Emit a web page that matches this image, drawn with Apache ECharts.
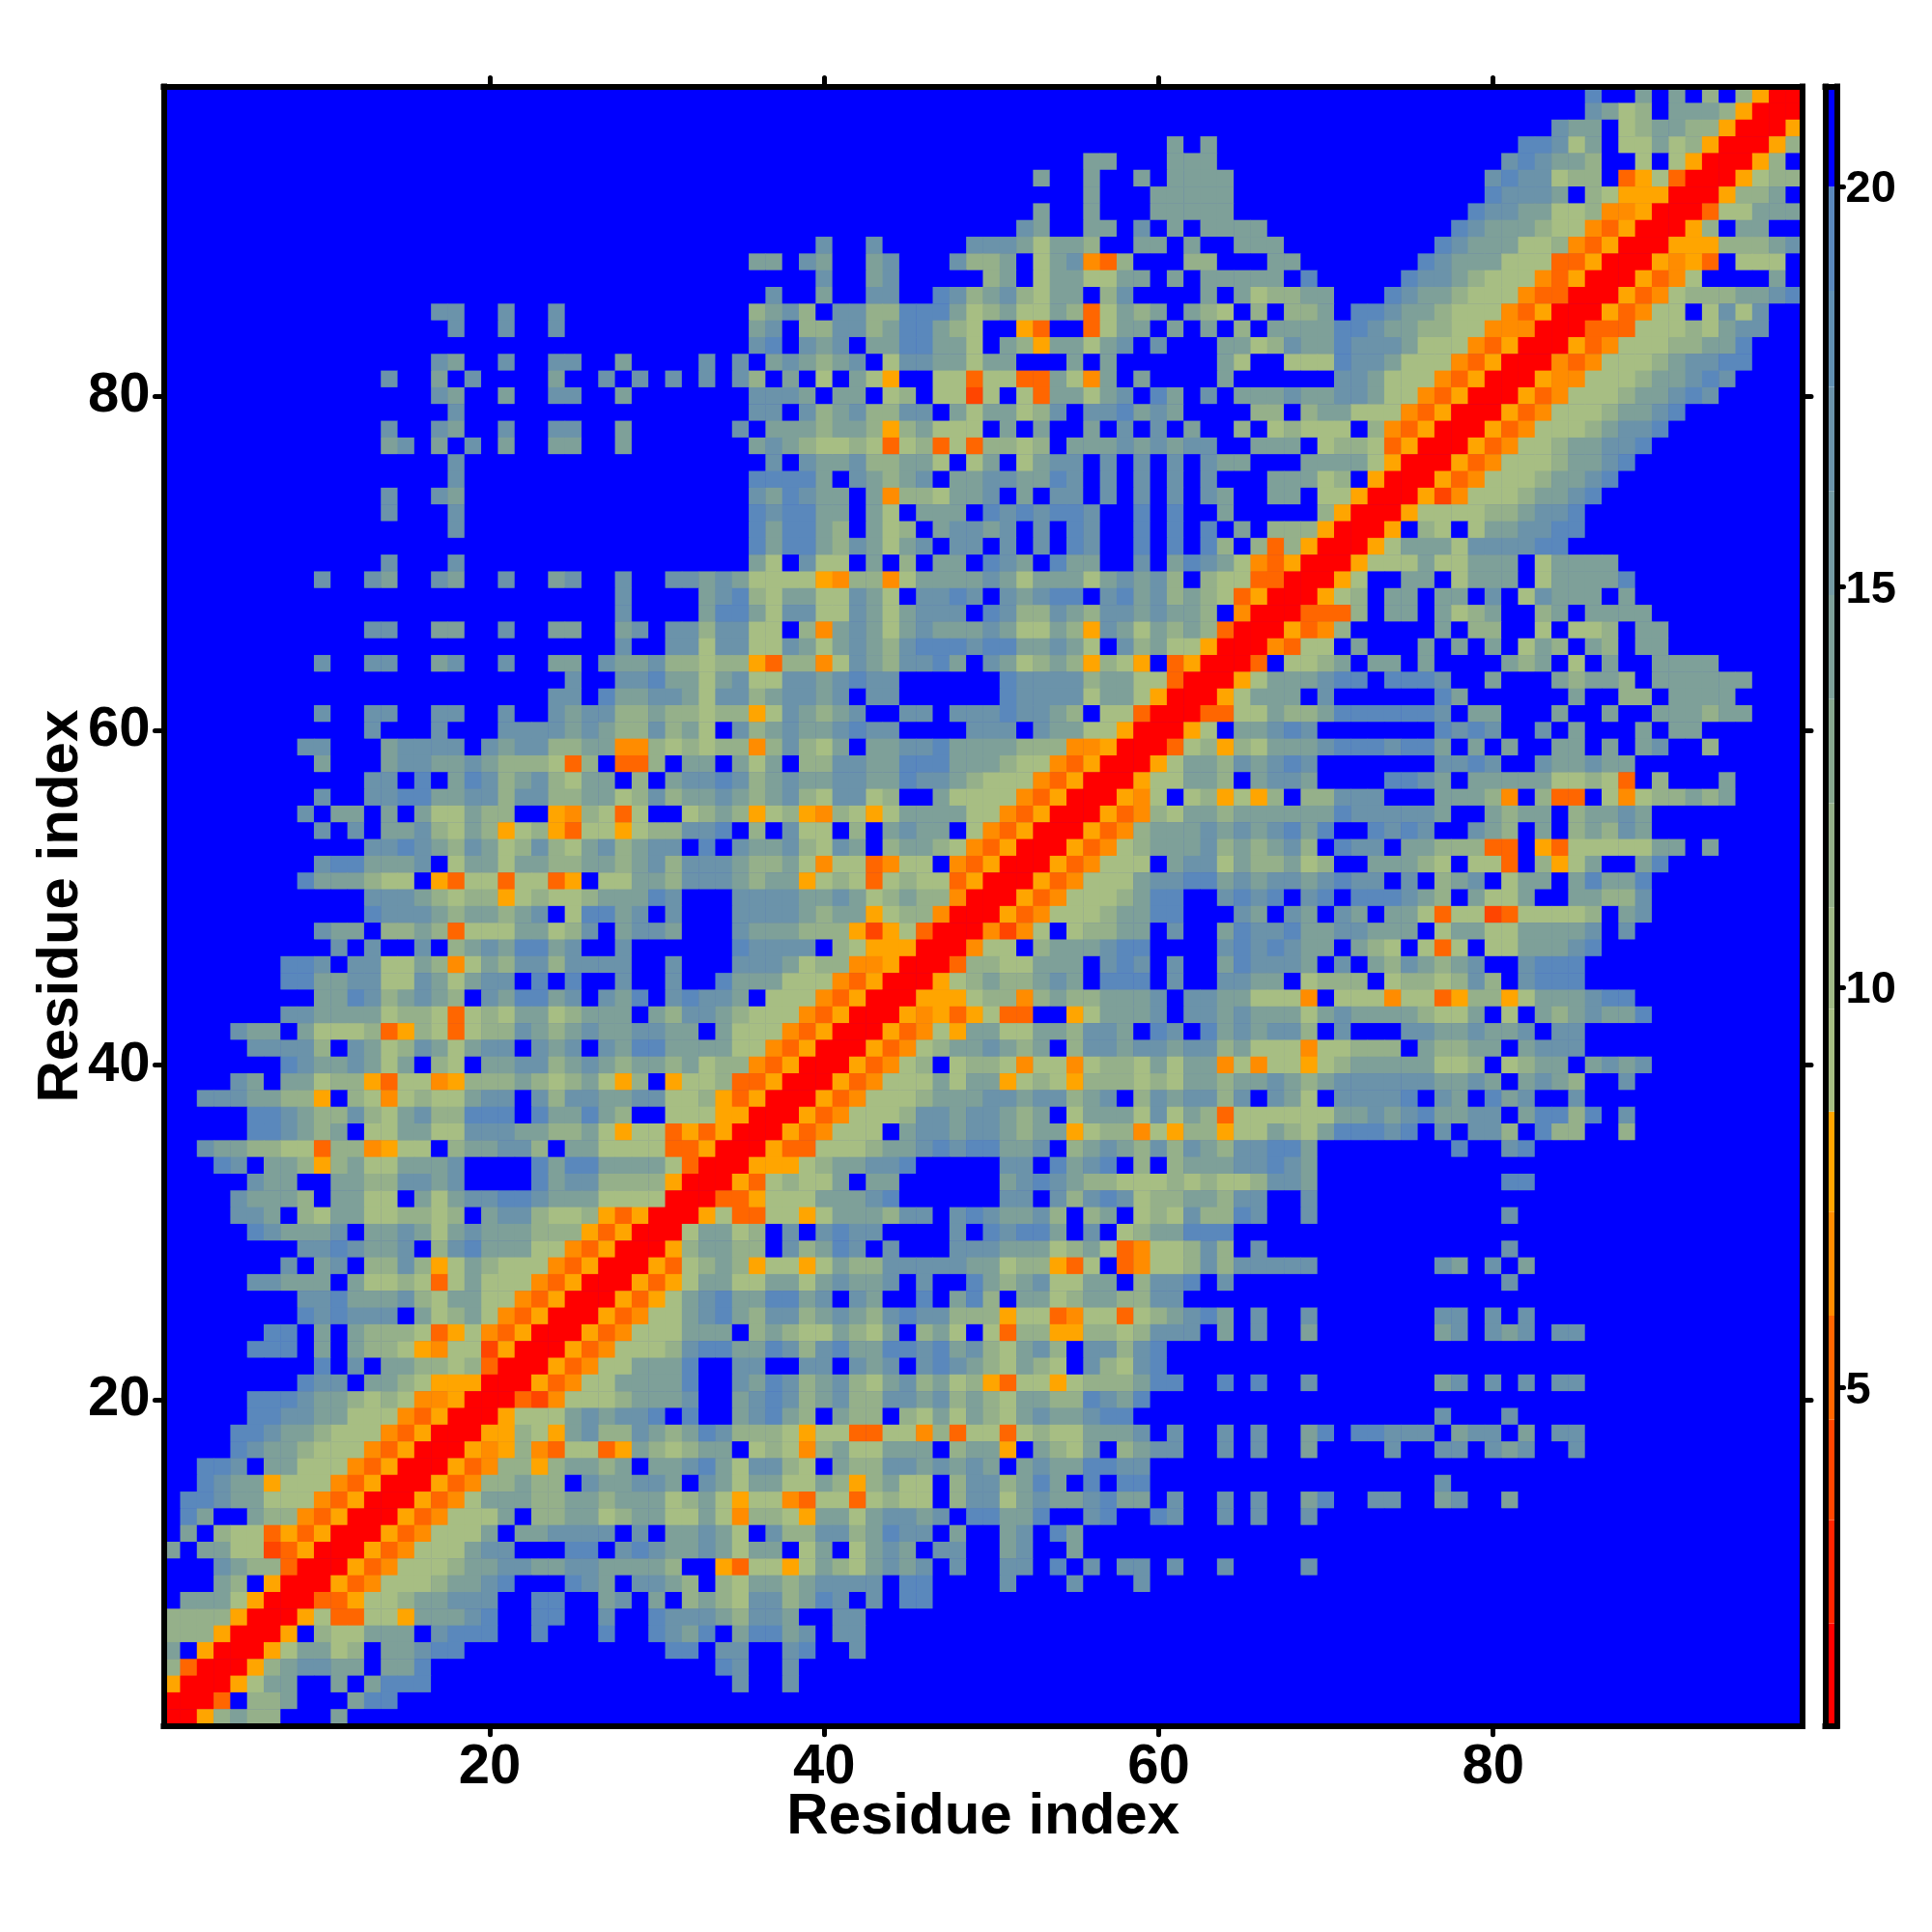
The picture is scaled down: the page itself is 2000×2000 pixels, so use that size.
<!DOCTYPE html>
<html><head><meta charset="utf-8">
<style>html,body{margin:0;padding:0;background:#fff}#c{width:2000px;height:2000px}</style>
<script src="https://cdn.jsdelivr.net/npm/echarts@6/dist/echarts.min.js"></script>
</head><body><div id="c"></div>
<script>
// Rows run from residue 98 (top) to residue 1 (bottom). '.' = beyond 20, digits = 8.5-20 classes, w v u t r = warm classes.
const block1_33 = [
"","","","","","","","","","","","","",
"..... ..... ..... .44.. 4..4.",
"..... ..... ..... ..4.. 4..4.",
"",
"..... ..... ..... .43.. 4..44 ..3.. ..4",
"..... ..... ...4. .3.4. ...3. .4.4. 4.4",
"..... ..... ..... .43.. 3..44 ..3..",
"..... ..... ..... ..4..",
"..... ..... ...4. .43.. 4..44 ..3..",
"..... ..... ...34 .3.4. 3..33 ..3..",
"..... ..... ..... ..4..",
"..... ..... ..... ..4..",
"..... ..... ...4. .43..",
"..... ..... ...4. ..4..",
"..... ..... ..... ..4..",
"",
"..... ..... ...4. ..4..",
"..... ....4 ..43. .43.. 4..34 ..4.. 443",
"..... ..... ..... ..... ..... ..4.. ..3",
"..... ..... ..... ..... ..... ..4.. ..3",
"..... ..... ..44. .33.. 4..33 ..34. 442",
"..... ..... ..... ..... ..... ..4.. 441",
"..... ....4 ..44. .34.. 4..33 .4334 221",
"..... ..... ..... ..... ....4 ..445 331",
"..... ..... ..... ..... ...44 .5334 431",
"..... ....4 ..44. .44.. 4..43 44223 221",
"..... ..... ..4.. .4... 44443 43224 231",
"..... ...44 ...34 444.4 34422 33vv2 121",
"..... ....3 ...34 43343 2221u 2.uu2 .33",
"..... ..... ..44. 5.354 23421 33.2. 344",
"..... ....4 ..445 53344 24422 33124 233",
"..... ...4. 33.3. 31132 2..wv 21u1. .12",
"..... ....4 .4.33 42132 w12wu 11w12 244",
"..... ..... ..445 43243 12421 34234 4.5",
"..... ....4 55333 4.133 13322 33234 244",
"..... ...53 33211 .wu11 u11uw .1133 244",
"..... ..... ..444 32122 w1211 23335 4",
"..... ..... ..544 43233 234.1 5534. 4",
"..... ....4 33.22 32u11 13312 4.344 3",
"..... ..... 4.4.. 4.234 35534 ..4",
"..... ..554 .4411 32v13 24424 444.. 4",
"..... ..553 34411 43134 4.5.5 ..4.. 4",
"..... ....3 35423 432.4 35534 .435. 454",
"..... ..443 33312 21u12 13312 333.3 244",
"....4 33.31 112uw 21u12 24323 43344 33.",
"..... 44442 .4312 43134 4.434 .4355 333",
"..... ..543 34313 .21.3 34423 43233 231",
"....4 3.331 22wu1 1vw22 23212 31w2. w11",
"..444 3322w .21v1 21134 4.424 43344 112",
"..... 55432 24213 42255 5.533 532.. 111",
"..... 55432 3.113 31144 43322 31w11 uwu",
"..433 2211u 22vw1 1.233 442.3 31111 uuw",
"...54 .332w 23113 334.. ..535 53333 1ur",
"..... 433.. 33224 434.. ..534 42222 wrr",
"....4 3332. 3311. 31344 55433 31111 rrr",
"....4 43.21 33112 212.3 44211 2wuwr rrw",
"..... 54333 4.334 31343 33222 wuwrr r13",
"..... ...44 54334 .2453 3311v uwrrr w23",
"..... ..4.3 4.224 2w132 111vu wrrrw u12",
"..... 44333 .3112 1u131 11vuw rrrwu w13",
"..... ...44 53334 21331 1vuwr rrwuw 134",
"..... ...54 5444. 31231 vuwrr rwuv1 134",
"..... .55.3 .3222 1uw1v uwrrr wuv11 133",
"..... 555.3 .3221 wv11t wrrrw uv111 245",
"..... ....5 .4.33 2212u rrrwu v1133 35.",
"..... ...54 4.332 1wwwr rrwuv 11333 35.",
"..... 55543 32121 vvwrr rutv1 11233 34.",
"..... 55443 3111v uwrrr w1113 43445 .5.",
"....5 54332 111vu wrrrw w21w3 42243 235",
"....5 43321 11vuw rrrwv w2vu1 1uw32 123",
"..554 .3311 1vuwr rrwuv 22w23 323.3 345",
"..543 3w111 vuwrr rwuv2 2322. 43344 3.4",
".5543 3111v uwrrr wuv13 33223 32333 123",
".53.. 322vu wrrrw uv111 3.223 31233 113",
".3.21 1uwuw rrrwu v1113 .3344 44.4. 334",
"3.331 1tuwr rrwuv 11134 4...5 5.454 334",
"...43 22urr rwuv1 11233 44334 43333 2",
"...32 .wrrr wuv11 12334 5...5 43.44 32.",
".3331 wrrru uw112 33444 ..55. .34.3 .23",
"2222w rrrw1 uu11w 33345 ..55. .4..5 444",
"222wr rrw.2 11333 .4555 ..5.. .5..5 435",
"3.wrr rw133 12.33 455.. ..... ..... 55",
"2urrr w2344 33.33 5",
"wrrrw 133.. 3.355 5",
"rrru. 223.. .355",
"rrw23 22... 3"
];
const block34_66 = [
"","","",
"..... ..... ..... ..... ..... ..3.3",
"..... ..... ..... ..... ..33. ..333",
"..... ..... ..... ....3 ..3.. 3.333 3",
"..... ..... ..... ..... ..3.. .3333 3",
"..... ..... ..... ....3 ..3.. .3333 3",
"..... ..... ..... ...43 ..33. 4.3.3 333",
"..... .4..4 ..... 44431 332.. 33.3. .33",
"..33. 43..3 4...4 223.1 34vu2 ...22",
"..... .4..3 4.... .23.1 33113 3.3.3 333",
"...4. .3..4 4..54 23421 33.24 ....3 .31",
"..234 2.442 25553 12311 32u13 23.32 1.2",
"..34. 22442 35532 1..wu ..u13 3.3.3 .2.",
"..45. 434.3 35533 1.32w 33134 .4... 331",
".4.34 3234. 14433 133.. .3.3. ..... 31.",
".42.3 .1.31 w..11 u11uu 31v3. 3.... 3",
"..444 3.33. 12.11 t1.1u 33134 .53.4 .33",
"..44. 42342 244.3 13312 4.445 343.. ..2",
".4.33 32332 w2311 1.3.3 ..3.4 .4.3. .2.",
"..343 21121 u12u1 u2212 .3334 34344 ..3",
"...4. 43342 2331. 13.13 44.4. 4.4.4 33.",
"..555 53.43 234.3 34433 54.4. 4.4.4",
"..435 433.3 v2213 34.3. 44.4. 4.4.4 3",
"..545 533.3 1.333 .5454 554.. 5.5.. 3",
"..535 532.3 12.34 434.4 .54.. 5.5.5 .3.",
"..535 53243 134.4 4.4.4 .54.. 5.5.5 2.2",
"..31. 411.3 .2.33 .543. 533.. 4.354 31v",
"43111 1wv22 v1333 34313 33134 342.2 11u",
"45213 31143 1.445 4.434 55.45 34232 1uw",
"55314 41143 13444 .5422 43244 34332 .vr",
"4411. 2v343 13433 34311 32w43 13232 urr",
"44114 31343 24555 45533 431.4 2311w rrr",
"22wu2 2v143 24453 .4312 32w21 w.uwr rru",
"34114 43454 4.... ..544 44233 11urr rw1",
"44234 434.4 4.... ..544 44133 1wrrr w13",
"22w14 3234. .44.4 44544 32.11 urrru u11",
".4234 33454 4.... 444.4 3311w rrrw1 .33",
"22v24 213.3 34453 33322 2vvwr rru12 w21",
".313. 22443 35553 33211 vuwrr rw133 243",
"54234 33443 35443 2111v uwrrr w1133 2.3",
"43234 21441 2..31 111vu wrrrw v1.12 w1w",
"32w12 wv21w 13333 11vuw rrrwu v2133 233",
"5.2.4 11.2. 3433. 1vuwr rrwuv 23334 343",
".4334 2143. 23321 vuwrr rwuv1 23334 232",
"43223 1v11u v11.v uwrrr wuv11 1.344 132",
"43233 w121u 1211u wrrrw uv111 34455 343",
".4444 33431 2322v rrrwu v1112 355.. 454",
".4444 3233w 122vr rrwuv 11123 355.. .43",
".4333 222wt w1urr rvtv1 .1223 3.4.. 354",
".5444 4.21w wwrrr v11.2 33345 5.... 454",
".4443 122vv wrrru 22113 33.45 4.4.. 354",
"53331 11vuw rrrw1 23223 43.55 5.4.. 443",
"43.11 1vuwr rrwww 122v2 32233 34.44 331",
"32111 vuwrr rwvwu w1uu. .w133 34.44 343",
"3111v uwrrr wuv1w 33113 32443 .54.5 343",
"311vu wrrrw uv123 34323 .2443 44344 231",
"22vuw rrrwu v12.1 221v1 1v122 13133 v1v",
"2uuwr rrwuv 11131 33w12 1w222 12133 233",
"wuwrr rwuv1 11233 34434 4234. 24344 24.",
"wwrrr wuv11 12443 44323 .1333 14132 u11",
"wrrrw uv111 .3443 44323 3w122 v1w22 w11",
"rrrwu u1112 33454 55334 .2343 24243 244",
"rrwww 12334 45... ..44. 5345. 2.233 344",
"rwu12 113.3 3.... ..345 43221 11212 112",
"uuw11 13334 5.... ..44. 42454 12233 244",
"1uu11 w1333 244.4 54334 2.23. 12142 254",
"312.4 .4544 ....4 .5455 3.4.1 23355 5",
"322.4 2354. 4...4 44333 1231u v1124 2.4",
"32w11 w1322 44444 33122 wu1.u v1124 244",
"31133 13433 4.4.. 53234 1133. 2445. 4",
"53355 34.43 ..5.3 52.33 12332 244..",
"53244 23432 45442 22w11 uv11u 12345 3.4",
"3.232 11321 3.231 .1u22 ww221 2444. 3.4",
"53354 24533 55453 42134 2.442 45",
".44.. 44.43 4.454 32132 1.421 45",
".4354 23421 34231 2wu11 w1222 355.. 5.5",
".3454 23422 44342 32133 22543 5",
".3453 2.322 .2131 32134 33455",
"42221 w11uu 11v2u 11u12 11333 4.4.. 4.4",
"3.121 v2311 333.2 33w.3 213.2 344.. 4.4",
"31442 1.322 44343 43.34 33554 4",
"31331 132w2 311.2 44235 3.5.5 5",
"1w11v u11u1 211.2 44134 33453 3.4.. 4.4",
"1v221 w3313 4434. 55335 ..45. .54.. 4.4",
"31.42 24423 544.3 ..34. 53",
"3133. 13.13 43.44 ..34. .3",
"wu11w 13213 434.4 ..44. 5.4.4 4.4.. 4",
"21332 34444 .55.. ..4.. .4... 4",
"21442 354.4 .55",
"32443 ..44",
".3553 4.44",
"44..4 5..4",
"54..4",
".4..4",
"",""
];
const block67_98 = [
"..... ..... ..... ....5 ..3.3 .2.2w rr",
"..... ..... ..... ....4 312.3 332wr rr",
"..... ..... ..... ..433 .1233 22wrr rw",
"..... ..... ..... 55413 .1131 2wrrr w2",
"..... ..... ....4 54332 ..1.1 wrrrw 2.",
"..... ..... ...45 44122 .uw1u rrrw1 22",
"..... ..... ...54 443.2 1wwwr rrw22 3.",
"..... ..... ..544 33112 vvwrr ru113 33",
"..... ..... .5433 3211v uwrrr w2.33",
"3.... ..... 54333 112vu wrrrw ww222 34",
"33... ....5 43331 11uuw rrrwv wu.11 1.",
"3.5.. ...54 43211 1vuwr rrwuv 1.... 3.",
"2233. ..543 32111 vuurr rwuv1 22233 45",
".223. 55433 2111v uwrrr wuv11 .1414",
"33335 54332 211vv vrrru uu111 21344",
"24335 44431 11vuw rrrwu v1112 2335",
".1115 44311 1vuwr rrvuv 11123 4455",
"....4 43111 vuwrr rwvv1 11233 454",
"34334 4311v uwrrr wuv11 12334 54",
"2.233 111vu wrrrw uv111 23345",
"12111 .2vuw rrrwu v1112 3445",
"33.12 21uwr rrwuv 11233 445",
"..333 31wrr rwuv1 11233 45",
"33312 .wrrr wuv11 12334 5",
"33.11 wrrrw tv111 23345",
"...2w rrrw1 11122 3445",
"222wr rrw.2 1.133 4455",
"u2wrr rw133 31444 455",
"uwrrr w1113 11333 .1333 3",
"urrrw 1..33 .1333 .1333 35",
"rrrw1 2.33. 33.4. 14333 .3",
"rruuu 2.33. 3123. .23.3 333",
"rwuv2 ..... 3.22. .1.11 2.33",
"vu11. 3...3 .3.3. 132.3 2.33",
".1123 .33.3 ....3 23.1. 3..33 33",
"33345 5.555 4..3. ..323 32.33 3333",
"33.4. ..... 53... ...3. .22.3 333",
"32235 55555 4.33. ..3.. 3..33 3233",
"454.. ..... 5454. .4.3. ..3.3 3",
"33345 55455 3.3.3 ..33. 3.34. .2",
"454.. ..... 4454. .4334 33",
"443.. ..554 3.333 33112 1u.2. ..3",
"2.224 44... 3332v .2uu. 1v122 323",
"33335 44444 3..32 33.23 343",
"4535. .5454 ..432 .3.23 243",
"342.5 44.33 222uu .wu11 11133 .3",
"2312. .3332 1.11u .2w13 ..35",
"44345 44.4. 234.1 33.35 335",
"5.45. 55543 2.311 3..33 224",
".43.4 3.331 u11tu 11112 .34",
"45334 4333. 13311 33334 .4",
"5433. 321.1 u1.11 33345",
"443.4 .3243 234.. 4555",
"3.122 2.122 1242. 4555",
"11v.1 11v11 uw22w 13334 55",
"33134 33332 113.1 .3234 335",
"442.4 ...44 33433 4.44",
"11v11 222.3 2233. 3444",
"11w12 33333 112.1 233.3 434",
"43234 44444 3343. 3432. .4",
"431.4 4445. 43.53 4..4",
"11113 34345 3344. 35525 .4",
"32135 5545. 4.442 .522. .2",
"553.. ..... .5..4 5",
"543",
"443.. ..... ....5 5",
"..4",
"..4.. ..... ....4",
"",
"..... ..... ....4",
"444.. ..... 43.4. 3",
"..... ..... ....4",
"",
"..4.. ..... 44.4. 4",
"..3.. ..... 34.43 4.44",
"","",
"..4.. ..... 34.4. 4.44",
"",
"..... ..... 4...4",
"..35. 55444 .344. 3.44",
"..3.. ..4.. 44.43 4..4",
"",
"..... ..... 4",
"..35. .44.. 34..3",
"..4",
"","",
"..4",
"","","","","","","","",""
];
const codeValues = {'.':21,'1':9,'2':12,'3':14.2,'4':17,'5':19.4,'w':7.8,'v':6.5,'u':5.2,'t':4,'r':1.4};
const bandEdges = [0.78,2.06,3.35,4.6,5.9,7.2,8.45,9.73,11,12.3,13.6,14.9,16.2,17.5,18.7,20,21.25];
const bandColors = ['#FF0000','#FF2400','#FF4500','#FF6600','#FF8C00','#FFA500','#A7BE83','#A0B986','#95B08A','#88A890','#7EA099','#749AA3','#6B93AA','#6190B2','#5A88BC','#0000FF'];
const axisTicks = [20,40,60,80];
const barTicks = [5,10,15,20];
const residues = Array.from({length:98},(_,i)=>String(i+1));

function clean(s,n){return s.replace(/ /g,'').padEnd(n,'.').slice(0,n);}
const cells=[];
for(let r=0;r<98;r++){
  const row=clean(block1_33[r]||'',33)+clean(block34_66[r]||'',33)+clean(block67_98[r]||'',32);
  for(let c=0;c<98;c++) cells.push([c,97-r,codeValues[row[c]]]);
}
const pieces=bandColors.map((color,i)=>({gte:bandEdges[i],lt:bandEdges[i+1],color}));
const bandData=bandColors.map((color,i)=>[bandEdges[i],bandEdges[i+1],i]);

const font='"Liberation Sans"';
const isTick=(i)=>axisTicks.includes(i+1);
function catAxis(pos,labels,extra){
  return Object.assign({type:'category',data:residues,position:pos,gridIndex:0,z:10,boundaryGap:true,
    axisLine:{show:true,onZero:false,lineStyle:{color:'#000',width:6,cap:'square'}},
    axisTick:{show:true,alignWithLabel:true,interval:isTick,length:9,lineStyle:{color:'#000',width:5,cap:'round'}},
    axisLabel:{show:labels,interval:isTick,fontFamily:font,fontWeight:'bold',fontSize:58,color:'#000',margin:14},
    splitLine:{show:false},splitArea:{show:false}},extra||{});
}
const titleStyle={fontFamily:font,fontWeight:'bold',fontSize:60,color:'#000'};
function barFrame(kind,pos){
  const base={type:'value',gridIndex:1,position:pos,z:10,splitLine:{show:false},
    axisLine:{show:true,onZero:false,lineStyle:{color:'#000',width:6,cap:'square'}},axisTick:{show:false},axisLabel:{show:false}};
  return kind==='x'?Object.assign(base,{min:0,max:1}):Object.assign(base,{min:bandEdges[0],max:bandEdges[bandEdges.length-1]});
}
const option={
  animation:false,backgroundColor:'#fff',
  grid:[
    {left:169.4,top:89.4,width:1696.6,height:1697.4,show:true,backgroundColor:'#0000FF',borderWidth:0,outerBoundsMode:'none'},
    {left:1889.5,top:89.5,width:12,height:1697,show:false,outerBoundsMode:'none'}
  ],
  xAxis:[
    catAxis('bottom',true,{name:'Residue index',nameLocation:'middle',nameGap:65,nameMoveOverlap:false,nameTextStyle:titleStyle}),
    catAxis('top',false),
    barFrame('x','bottom'),
    barFrame('x','top')
  ],
  yAxis:[
    catAxis('left',true,{name:'Residue index',nameLocation:'middle',nameGap:76,nameMoveOverlap:false,nameTextStyle:titleStyle}),
    catAxis('right',false),
    barFrame('y','left'),
    Object.assign(barFrame('y','right'),{
      axisTick:{show:true,customValues:barTicks,length:7,lineStyle:{color:'#000',width:5,cap:'round'}},
      axisLabel:{show:true,customValues:barTicks,fontFamily:font,fontWeight:'bold',fontSize:47,color:'#000',margin:9,
        verticalAlign:'top',lineHeight:6,formatter:(v)=>String(v)}
    })
  ],
  visualMap:{type:'piecewise',show:false,seriesIndex:0,dimension:2,pieces},
  series:[
    {type:'heatmap',xAxisIndex:0,yAxisIndex:0,data:cells,progressive:0,z:2,emphasis:{disabled:true},itemStyle:{borderWidth:0}},
    {type:'custom',xAxisIndex:2,yAxisIndex:2,data:bandData,z:2,clip:true,silent:true,
      encode:{x:[],y:[0,1]},
      renderItem:(params,api)=>{
        const lo=api.coord([0,api.value(0)]),hi=api.coord([1,api.value(1)]);
        return {type:'rect',shape:{x:lo[0],y:hi[1],width:hi[0]-lo[0],height:lo[1]-hi[1]},
          style:{fill:bandColors[api.value(2)]}};
      }}
  ]
};
const chart=echarts.init(document.getElementById('c'),null,{renderer:'canvas',width:2000,height:2000});
chart.setOption(option);
</script></body></html>
